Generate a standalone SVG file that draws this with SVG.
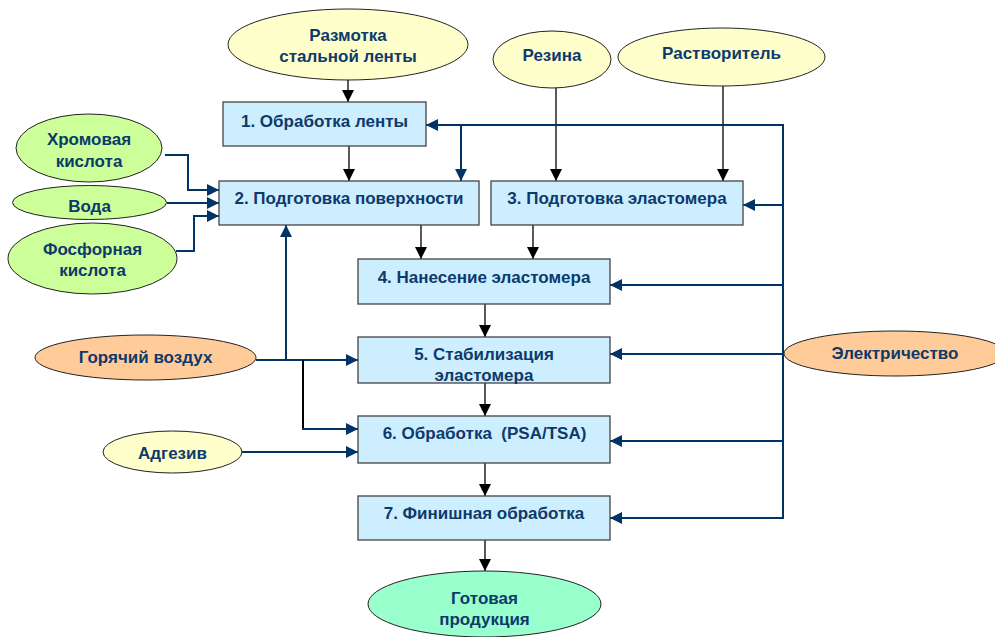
<svg xmlns="http://www.w3.org/2000/svg" width="995" height="637" viewBox="0 0 995 637">
<style>
text{font-family:"Liberation Sans",Arial,sans-serif;font-weight:bold;font-size:17px;fill:#0d3a6b;text-anchor:middle}
.box{fill:#cceeff;stroke:#444;stroke-width:1.3}
.ell{stroke:#222;stroke-width:1}
.y{fill:#ffffcc}.g{fill:#ccff99}.o{fill:#ffcc99}.m{fill:#99ffcc}
.k{fill:none;stroke:#000;stroke-width:1.3}
.b{fill:none;stroke:#003366;stroke-width:2}
</style>
<defs>
<marker id="ak" markerWidth="12" markerHeight="12" viewBox="0 0 12 12" refX="12" refY="6" orient="auto" markerUnits="userSpaceOnUse"><path d="M0,0 L12,6 L0,12 Z" fill="#000"/></marker>
<marker id="ab" markerWidth="12" markerHeight="12" viewBox="0 0 12 12" refX="12" refY="6" orient="auto" markerUnits="userSpaceOnUse"><path d="M0,0 L12,6 L0,12 Z" fill="#003366"/></marker>
</defs>
<rect width="995" height="637" fill="#fff"/>
<g id="connectors">
<line class="k" x1="348" y1="80" x2="348" y2="102" marker-end="url(#ak)"/>
<line class="k" x1="349" y1="146" x2="349" y2="181" marker-end="url(#ak)"/>
<line class="k" x1="556" y1="88" x2="556" y2="181" marker-end="url(#ak)"/>
<line class="k" x1="723" y1="86" x2="723" y2="181" marker-end="url(#ak)"/>
<line class="k" x1="421" y1="225" x2="421" y2="259" marker-end="url(#ak)"/>
<line class="k" x1="533" y1="225" x2="533" y2="259" marker-end="url(#ak)"/>
<line class="k" x1="485" y1="304" x2="485" y2="337" marker-end="url(#ak)"/>
<line class="k" x1="485" y1="383" x2="485" y2="416" marker-end="url(#ak)"/>
<line class="k" x1="485" y1="463" x2="485" y2="496" marker-end="url(#ak)"/>
<line class="k" x1="485" y1="540" x2="485" y2="571" marker-end="url(#ak)"/>
<polyline class="b" points="165,155 188,155 188,190 219,190" marker-end="url(#ab)"/>
<line class="b" x1="167" y1="203" x2="219" y2="203" marker-end="url(#ab)"/>
<polyline class="b" points="176,251 194,251 194,216 219,216" marker-end="url(#ab)"/>
<line class="b" x1="256" y1="360" x2="358" y2="360" marker-end="url(#ab)"/>
<line class="b" x1="286" y1="360" x2="286" y2="225" marker-end="url(#ab)"/>
<line x1="303" y1="360" x2="303" y2="429" stroke="#000" stroke-width="2"/>
<line class="b" x1="302" y1="429" x2="358" y2="429" marker-end="url(#ab)"/>
<line class="b" x1="242" y1="452" x2="358" y2="452" marker-end="url(#ab)"/>
<polyline class="b" points="783,125 783,518"/>
<line class="b" x1="784" y1="125" x2="426" y2="125" marker-end="url(#ab)"/>
<line class="b" x1="461" y1="125" x2="461" y2="181" marker-end="url(#ab)"/>
<line class="b" x1="783" y1="205" x2="743" y2="205" marker-end="url(#ab)"/>
<line class="b" x1="783" y1="285" x2="610" y2="285" marker-end="url(#ab)"/>
<line class="b" x1="784" y1="354" x2="610" y2="354" marker-end="url(#ab)"/>
<line class="b" x1="783" y1="441" x2="610" y2="441" marker-end="url(#ab)"/>
<line class="b" x1="784" y1="518" x2="610" y2="518" marker-end="url(#ab)"/>
</g>
<g id="n-razmotka"><ellipse class="ell y" cx="348" cy="44.5" rx="120" ry="35.5"/><text x="348" y="41">Размотка</text><text x="348" y="62">стальной ленты</text></g>
<g id="n-rezina"><ellipse class="ell y" cx="552" cy="59.5" rx="59" ry="28.5"/><text x="552" y="61">Резина</text></g>
<g id="n-rastvoritel"><ellipse class="ell y" cx="721.5" cy="57" rx="103.5" ry="29"/><text x="721.5" y="59">Растворитель</text></g>
<g id="n-hrom"><ellipse class="ell g" cx="89" cy="148" rx="73" ry="34"/><text x="89" y="145">Хромовая</text><text x="89" y="167">кислота</text></g>
<g id="n-voda"><ellipse class="ell g" cx="89.5" cy="202.5" rx="77" ry="17"/><text x="89.5" y="212">Вода</text></g>
<g id="n-fosfor"><ellipse class="ell g" cx="92.5" cy="258.5" rx="84.5" ry="35.5"/><text x="92.5" y="255">Фосфорная</text><text x="92.5" y="276">кислота</text></g>
<g id="n-vozduh"><ellipse class="ell o" cx="145.5" cy="357.5" rx="110.5" ry="22.5"/><text x="145.5" y="363">Горячий воздух</text></g>
<g id="n-adgeziv"><ellipse class="ell y" cx="172.5" cy="452" rx="69.5" ry="21"/><text x="172.5" y="459">Адгезив</text></g>
<g id="n-elektr"><ellipse class="ell o" cx="895" cy="353.5" rx="111" ry="22.5"/><text x="895" y="359">Электричество</text></g>
<g id="n-gotov"><ellipse class="ell m" cx="484.5" cy="604" rx="116.5" ry="33"/><text x="484.5" y="604">Готовая</text><text x="484.5" y="625">продукция</text></g>
<g id="n-1"><rect class="box" x="223" y="102" width="203" height="44"/><text x="324.5" y="127">1. Обработка ленты</text></g>
<g id="n-2"><rect class="box" x="219" y="181" width="260" height="44"/><text x="349" y="204">2. Подготовка поверхности</text></g>
<g id="n-3"><rect class="box" x="491" y="181" width="252" height="44"/><text x="617" y="204">3. Подготовка эластомера</text></g>
<g id="n-4"><rect class="box" x="358" y="259" width="252" height="45"/><text x="484" y="283">4. Нанесение эластомера</text></g>
<g id="n-5"><rect class="box" x="358" y="337" width="252" height="46"/><text x="484" y="360">5. Стабилизация</text><text x="484" y="381">эластомера</text></g>
<g id="n-6"><rect class="box" x="358" y="416" width="252" height="47"/><text x="484.5" y="439" xml:space="preserve">6. Обработка  (PSA/TSA)</text></g>
<g id="n-7"><rect class="box" x="358" y="496" width="252" height="44"/><text x="484" y="519">7. Финишная обработка</text></g>
</svg>
